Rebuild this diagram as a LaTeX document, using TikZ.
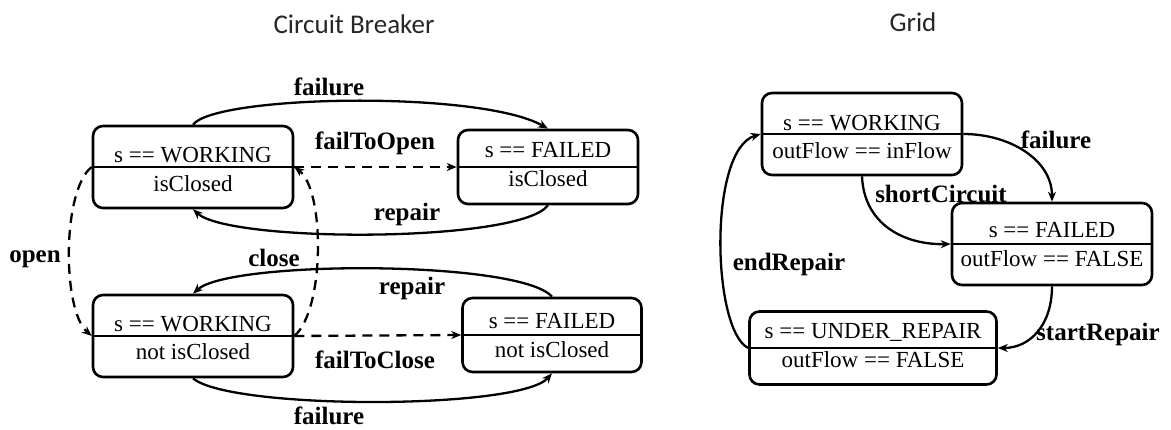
\documentclass[tikz,border=0pt]{standalone}
\usepackage{fontspec}
\setmainfont{Liberation Serif}
\newfontfamily\titlefont{Carlito}
\usetikzlibrary{arrows.meta}
\begin{document}
\begin{tikzpicture}[x=1pt,y=-1pt,
  state/.style={draw, line width=2.6pt, rounded corners=10pt, inner sep=0pt},
  divider/.style={line width=1.5pt},
  txt/.style={font=\fontsize{23}{27}\selectfont, anchor=base, inner sep=0pt},
  lbl/.style={font=\fontsize{25}{29}\selectfont\bfseries, inner sep=0pt},
  ttl/.style={font=\titlefont\fontsize{27}{32}\selectfont, text=black!85, inner sep=0pt},
  tr/.style={line width=2.3pt, -{Stealth[length=10pt,width=8pt]}},
  dtr/.style={tr, dash pattern=on 10pt off 7pt}]
\useasboundingbox (0,0) rectangle (1171,430);
% titles
\node[ttl] (t1) at (354,24) {Circuit Breaker};
\node[ttl] (t2) at (913,22) {Grid};
% Circuit breaker states
\node[state, minimum width=200pt, minimum height=82pt] (cb1) at (193,167) {};
\draw[divider] (cb1.west) -- (cb1.east);
\node[txt] (cb1a) at ([yshift=4pt]cb1.center) {s == WORKING};
\node[txt] (cb1b) at ([yshift=-25pt]cb1.center) {isClosed};

\node[state, minimum width=180pt, minimum height=74pt] (cb2) at (548,167) {};
\draw[divider] (cb2.west) -- (cb2.east);
\node[txt] (cb2a) at ([yshift=9pt]cb2.center) {s == FAILED};
\node[txt] (cb2b) at ([yshift=-20pt]cb2.center) {isClosed};

\node[state, minimum width=200pt, minimum height=82pt] (cb3) at (193,336) {};
\draw[divider] (cb3.west) -- (cb3.east);
\node[txt] (cb3a) at ([yshift=4pt]cb3.center) {s == WORKING};
\node[txt] (cb3b) at ([yshift=-24pt]cb3.center) {not isClosed};

\node[state, minimum width=179pt, minimum height=74pt] (cb4) at (552,335) {};
\draw[divider] (cb4.west) -- (cb4.east);
\node[txt] (cb4a) at ([yshift=6pt]cb4.center) {s == FAILED};
\node[txt] (cb4b) at ([yshift=-23pt]cb4.center) {not isClosed};

% Grid states
\node[state, minimum width=200pt, minimum height=82pt] (g1) at (862,134) {};
\draw[divider] (g1.west) -- (g1.east);
\node[txt] (g1a) at ([yshift=3pt]g1.center) {s == WORKING};
\node[txt] (g1b) at ([yshift=-25pt]g1.center) {outFlow == inFlow};

\node[state, minimum width=200pt, minimum height=82pt] (g2) at (1052,244) {};
\draw[divider] (g2.west) -- (g2.east);
\node[txt] (g2a) at ([yshift=6pt]g2.center) {s == FAILED};
\node[txt] (g2b) at ([yshift=-23pt]g2.center) {outFlow == FALSE};

\node[state, minimum width=247pt, minimum height=73pt] (g3) at (873,348) {};
\draw[divider] (g3.west) -- (g3.east);
\node[txt] (g3a) at ([yshift=9pt]g3.center) {s == UNDER\_REPAIR};
\node[txt] (g3b) at ([yshift=-20pt]g3.center) {outFlow == FALSE};

% Circuit breaker transitions
\draw[tr] (cb1.north) .. controls (215,95) and (480,90) .. (cb2.north);
\draw[dtr] (cb1.east) -- (cb2.west);
\draw[tr] (cb2.south) .. controls (520,243) and (230,243) .. (cb1.south);
\draw[dtr] (cb1.west) .. controls (62,190) and (62,310) .. (cb3.west);
\draw[dtr] (cb3.east) .. controls (325,310) and (325,190) .. (cb1.east);
\draw[dtr] (cb3.east) -- (cb4.west);
\draw[tr] (cb4.north) .. controls (520,260) and (230,260) .. (cb3.north);
\draw[tr] (cb3.south) .. controls (230,410) and (520,410) .. (cb4.south);

\node[lbl] (l1) at (329,87) {failure};
\node[lbl] (l2) at (375,143) {failToOpen};
\node[lbl] (l3) at (407,214) {repair};
\node[lbl] (l4) at (35,259) {open};
\node[lbl] (l5) at (274,258) {close};
\node[lbl] (l6) at (412,288) {repair};
\node[lbl] (l7) at (375,360) {failToClose};
\node[lbl] (l8) at (329,416) {failure};

% Grid transitions
\draw[tr] (g1.east) .. controls (1010,134) and (1052,160) .. (g2.north);
\draw[tr] (g1.south) .. controls (864,225) and (905,245) .. (g2.west);
\draw[tr] (g2.south) .. controls (1052,325) and (1030,348) .. (g3.east);
\draw[tr] (g3.west) .. controls (712,330) and (708,150) .. (g1.west);

\node[lbl] (l9) at (1056,140) {failure};
\node[lbl] (l10) at (941,194) {shortCircuit};
\node[lbl] (l11) at (1098,334) {startRepair};
\node[lbl] (l12) at (789,264) {endRepair};
\end{tikzpicture}
\end{document}
